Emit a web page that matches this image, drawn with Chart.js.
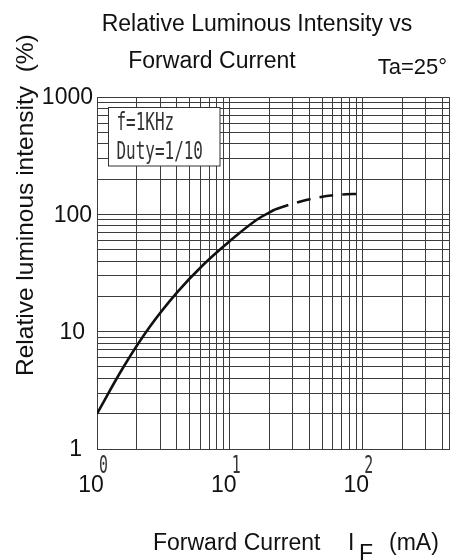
<!DOCTYPE html>
<html><head><meta charset="utf-8">
<script src="https://cdn.jsdelivr.net/npm/chart.js@4"></script>
<style>html,body{margin:0;padding:0;background:#fff;}canvas{display:block}</style>
</head><body>
<canvas id="c" width="450" height="560"></canvas>
<script>
// ---- data ----
const solidCurrent   = [1, 1.6, 2.5, 4, 6.3, 10, 16, 22];
const solidIntensity = [2, 5.1, 11, 21.5, 37, 59, 90, 110];
const dashedCurrent   = [22, 32, 45, 63, 100];
const dashedIntensity = [110, 126, 138, 146, 150];
const xDecades   = [1, 10, 100];
const xExponents = ['0', '1', '2'];
const yDecades   = [1, 10, 100, 1000];
const yTickLabels = ['1', '10', '100', '1000'];
const xRange = [1, 450];
const yRange = [1, 1000];
const titleLines = ['Relative Luminous Intensity vs', 'Forward Current'];
const tempNote = 'Ta=25°';
const noteLines = ['f=1KHz', 'Duty=1/10'];
const yTitle = 'Relative luminous intensity  (%)';
const xTitleParts = ['Forward Current', 'I', 'F', '(mA)'];

function gridValues(min, max) {
  const out = [];
  for (let e = Math.floor(Math.log10(min)); Math.pow(10, e) <= max; e++) {
    for (let m = 1; m <= 9; m++) {
      const v = m * Math.pow(10, e);
      if (v >= min && v <= max) out.push(v);
    }
  }
  if (out[out.length - 1] !== max) out.push(max);
  return out;
}
const toPts = (xs, ys) => xs.map((x, i) => ({x, y: ys[i]}));

const SANS = '"Liberation Sans", Arial, sans-serif';
const MONO = '"DejaVu Sans Mono", monospace';
const GRID = '#3c3c3c';

function condText(ctx, str, x, y, size, sx) {
  ctx.save();
  ctx.translate(x, y);
  ctx.scale(sx, 1);
  ctx.font = size + 'px ' + MONO;
  ctx.textAlign = 'left';
  ctx.textBaseline = 'alphabetic';
  ctx.fillText(str, 0, 0);
  ctx.restore();
}

const decor = {
  id: 'decor',
  beforeDatasetsDraw(chart) {
    const {ctx, chartArea: a} = chart;
    const bx = a.left + 11.5, by = a.top + 10.5, bw = 111.5, bh = 58.5;
    ctx.save();
    ctx.fillStyle = '#fff';
    ctx.fillRect(bx, by, bw, bh);
    ctx.strokeStyle = '#333';
    ctx.lineWidth = 1;
    ctx.strokeRect(bx, by, bw, bh);
    ctx.fillStyle = '#333';
    condText(ctx, noteLines[0], bx + 8, by + 22.5, 24, 0.665);
    condText(ctx, noteLines[1], bx + 8, by + 51, 24, 0.665);
    ctx.restore();
  },
  afterDraw(chart) {
    const {ctx, chartArea: a, scales} = chart;
    ctx.save();
    ctx.fillStyle = '#111';
    ctx.font = '23px ' + SANS;
    ctx.textBaseline = 'alphabetic';
    ctx.textAlign = 'center';
    ctx.fillText(titleLines[0], 257, 31);
    ctx.fillText(titleLines[1], 212, 68);
    ctx.font = '22px ' + SANS;
    ctx.textAlign = 'right';
    ctx.fillText(tempNote, 447, 74);
    ctx.font = '23px ' + SANS;
    ctx.textAlign = 'right';
    ctx.textBaseline = 'middle';
    const inset = [15, 12, 5, 4];
    yDecades.forEach((v, i) => {
      const py = scales.y.getPixelForValue(v);
      ctx.fillText(yTickLabels[i], a.left - inset[i], py + 1);
    });
    ctx.textBaseline = 'alphabetic';
    ctx.textAlign = 'center';
    xDecades.forEach((v, i) => {
      const px = scales.x.getPixelForValue(v);
      ctx.fillStyle = '#111';
      ctx.font = '23px ' + SANS;
      ctx.fillText('10', px - 6, 492);
      ctx.fillStyle = '#333';
      condText(ctx, xExponents[i], px + 2, 473, 24, 0.62);
    });
    ctx.fillStyle = '#111';
    ctx.textAlign = 'left';
    ctx.font = '23px ' + SANS;
    ctx.fillText(xTitleParts[0], 153, 550);
    ctx.fillText(xTitleParts[1], 348, 550);
    ctx.fillText(xTitleParts[2], 359, 561);
    ctx.fillText(xTitleParts[3], 389, 550);
    ctx.font = '24.5px ' + SANS;
    ctx.translate(33, 376);
    ctx.rotate(-Math.PI / 2);
    ctx.textAlign = 'left';
    ctx.fillText(yTitle, 0, 0);
    ctx.restore();
  }
};

new Chart(document.getElementById('c'), {
  type: 'scatter',
  data: {
    datasets: [
      { data: toPts(solidCurrent, solidIntensity), showLine: true, borderColor: '#111',
        borderWidth: 2.6, pointRadius: 0, tension: 0.4 },
      { data: toPts(dashedCurrent, dashedIntensity), showLine: true, borderColor: '#111',
        borderWidth: 2.6, pointRadius: 0, borderDash: [14, 9], tension: 0.4 }
    ]
  },
  options: {
    responsive: false,
    animation: false,
    events: [],
    layout: { padding: { left: 97, right: 1, top: 97, bottom: 111 } },
    plugins: { legend: { display: false }, tooltip: { enabled: false }, title: { display: false } },
    scales: {
      x: {
        type: 'logarithmic', min: xRange[0], max: xRange[1],
        afterBuildTicks: s => { s.ticks = gridValues(xRange[0], xRange[1]).map(v => ({value: v})); },
        ticks: { display: false },
        grid: { color: GRID, lineWidth: 1, drawTicks: false },
        border: { color: GRID, width: 1 }
      },
      y: {
        type: 'logarithmic', min: yRange[0], max: yRange[1],
        afterBuildTicks: s => { s.ticks = gridValues(yRange[0], yRange[1]).map(v => ({value: v})); },
        ticks: { display: false },
        grid: { color: GRID, lineWidth: 1, drawTicks: false },
        border: { color: GRID, width: 1 }
      }
    }
  },
  plugins: [decor]
});
</script>
</body></html>
